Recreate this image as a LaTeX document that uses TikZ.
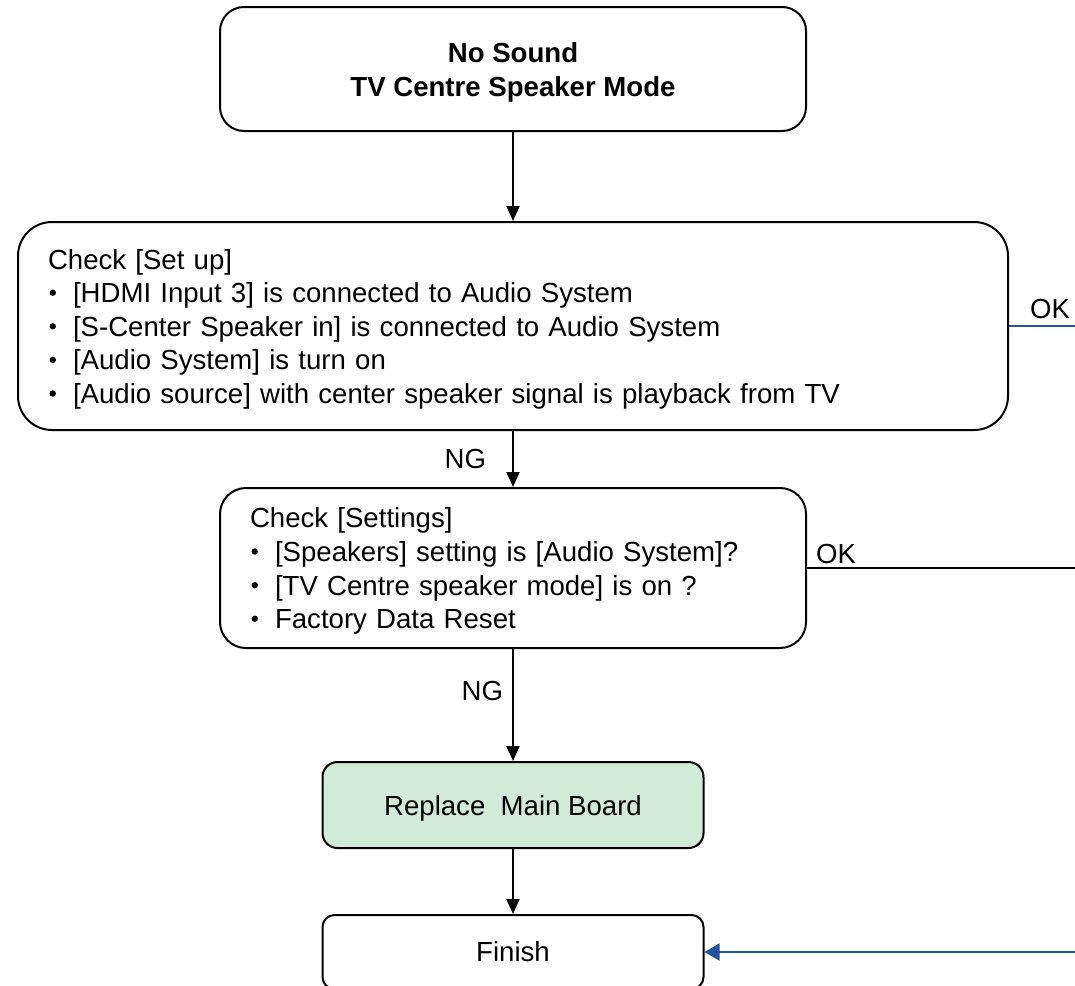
\documentclass[tikz,border=0pt]{standalone}
\usepackage{fontspec}
\setmainfont{Liberation Sans}
\usetikzlibrary{arrows.meta}
\definecolor{okblue}{RGB}{32,84,160}
\definecolor{boardgreen}{RGB}{208,236,214}
\newcommand{\bulletline}[1]{\makebox[12.5pt][l]{\hspace{0.8pt}\tikz[baseline=-0.36em]\fill (0,0) circle (1.6pt);}\mbox{#1}}
\newcommand{\topstrut}{\rule{0pt}{0.95em}}

\begin{document}
\begin{tikzpicture}[x=0.5pt,y=-0.5pt,
  box/.style={draw,line width=1pt,font=\fontsize{13.8}{16.8}\selectfont},
  listbox/.style={box,align=left,inner xsep=15pt},
  flow/.style={line width=1pt,-{Triangle[width=6.5pt,length=7.5pt]}},
  lbl/.style={inner sep=0pt,font=\fontsize{13.8}{16.8}\selectfont}]
  \useasboundingbox (0,0) rectangle (1075,985);
  \clip (0,0) rectangle (1075,985);
  % boxes
  \node[box,rounded corners=12pt,align=center,minimum width=293pt,minimum height=62pt] (top) at (513,69)
    {\topstrut\textbf{No Sound}\\\textbf{TV Centre Speaker Mode}};
  \node[listbox,rounded corners=17pt,text width=465pt,minimum height=104pt] (setup) at (513,326)
    {\topstrut Check [Set up]\\
     \bulletline{[HDMI Input 3] is connected to Audio System}\\
     \bulletline{[S-Center Speaker in] is connected to Audio System}\\
     \bulletline{[Audio System] is turn on}\\
     \bulletline{[Audio source] with center speaker signal is playback from TV}};
  \node[listbox,rounded corners=13pt,text width=263pt,minimum height=80pt] (settings) at (513,568)
    {\topstrut Check [Settings]\\
     \bulletline{[Speakers] setting is [Audio System]?}\\
     \bulletline{[TV Centre speaker mode] is on ?}\\
     \bulletline{Factory Data Reset}};
  \node[box,rounded corners=7.5pt,fill=boardgreen,minimum width=190.5pt,minimum height=43pt] (repl) at (513,805)
    {\topstrut Replace\ \ Main Board};
  \node[box,rounded corners=6pt,minimum width=190.5pt,minimum height=37pt] (fin) at (513,952) {Finish};
  % free ends on the right
  \coordinate (okA) at (1090,326);
  \coordinate (okB) at (1090,568);
  \coordinate (okC) at (1090,952);
  % connectors
  \foreach \a/\b in {top/setup,repl/fin} { \draw[flow] (\a) -- (\b); }
  \draw[flow] (setup) -- node[lbl,left=13pt] {NG} (settings);
  \draw[flow] (settings) -- node[lbl,pos=0.375,left=4.5pt] {NG} (repl);
  \draw[okblue,line width=1pt] (setup.east) -- (okA);
  \draw[line width=1pt] (settings.east) -- (okB);
  \draw[flow,okblue,-{Triangle[width=8.5pt,length=7.5pt]}] (okC) -- (fin.east);
  \node[lbl,anchor=base] (okAlbl) at (1050,318) {OK};
  \node[lbl,anchor=base] (okBlbl) at (836,563) {OK};
\end{tikzpicture}
\end{document}
